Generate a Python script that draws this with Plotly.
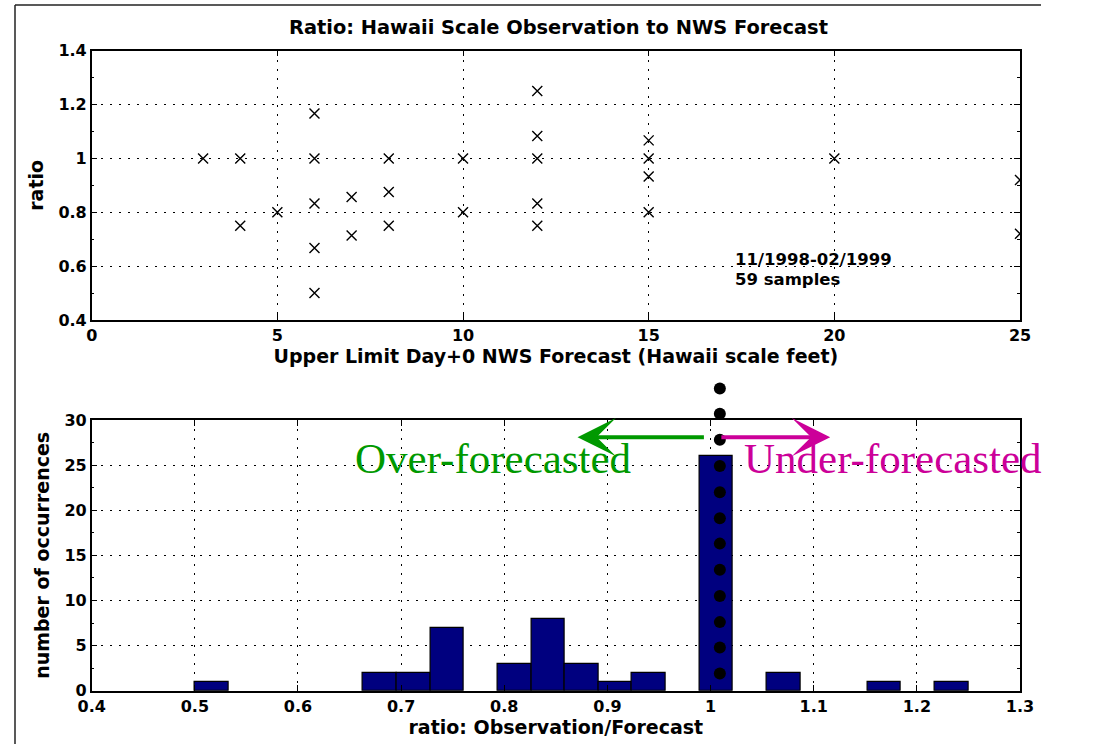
import plotly.graph_objects as go

# ---------------- data ----------------
# top panel: forecast (x) vs ratio (y)
fc_x = [3, 4, 4, 5, 6, 6, 6, 6, 6, 7, 7, 8, 8, 8, 10, 10,
        12, 12, 12, 12, 12, 15, 15, 15, 15, 20, 25, 25]
ratio_y = [1.0, 1.0, 0.75, 0.8, 1.167, 1.0, 0.833, 0.667, 0.5, 0.857, 0.714,
           1.0, 0.875, 0.75, 1.0, 0.8,
           1.25, 1.083, 1.0, 0.833, 0.75, 1.067, 1.0, 0.933, 0.8, 1.0, 0.92, 0.72]

# bottom panel: histogram of ratios (23 bins between 0.5 and 1.25)
bin_centers = [0.5163, 0.6793, 0.7120, 0.7446, 0.8098, 0.8424, 0.8750,
               0.9076, 0.9402, 1.0054, 1.0707, 1.1685, 1.2337]
bin_counts = [1, 2, 2, 7, 3, 8, 3, 1, 2, 26, 2, 1, 1]
bin_width = 0.0326

# column of dots drawn through the ratio = 1 bar
dot_x = [1.009] * 12
dot_y = [33.5, 30.7, 27.8, 24.9, 22.0, 19.1, 16.3, 13.4, 10.5, 7.6, 4.8, 1.9]

top_xticks = [0, 5, 10, 15, 20, 25]
top_yticks = [0.4, 0.6, 0.8, 1.0, 1.2, 1.4]
bot_xticks = [0.4, 0.5, 0.6, 0.7, 0.8, 0.9, 1.0, 1.1, 1.2, 1.3]
bot_yticks = [0, 5, 10, 15, 20, 25, 30]

W, H = 1096, 744
GREEN = "#009900"
MAGENTA = "#cc0099"
NAVY = "#00007f"
SANS = "DejaVu Sans"
SERIF = "Liberation Serif"

# pixel layout of the two panels
LEFT, RIGHT = 91.7, 1020
TOP1, BOT1 = 50.7, 320
TOP2, BOT2 = 420, 690.7
DOT_TOP = 370  # upper end of the invisible overlay used for the dot column


def px_x(p):
    return p / W


def px_y(p):
    return 1 - p / H


y2_range = [0, 30]
y3_range = [0, y2_range[1] * (BOT2 - DOT_TOP) / (BOT2 - TOP2)]

fig = go.Figure()

fig.add_trace(go.Scatter(
    x=fc_x, y=ratio_y, mode="markers", xaxis="x", yaxis="y",
    marker=dict(symbol="x-thin", size=10, line=dict(color="black", width=1.4)),
    showlegend=False))

fig.add_trace(go.Bar(
    x=bin_centers, y=bin_counts, width=bin_width, xaxis="x2", yaxis="y2",
    marker=dict(color=NAVY, line=dict(color="black", width=1.2)),
    showlegend=False))

fig.add_trace(go.Scatter(
    x=dot_x, y=dot_y, mode="markers", xaxis="x3", yaxis="y3",
    marker=dict(symbol="circle", size=12, color="black"),
    showlegend=False, hoverinfo="skip"))

tickfont = dict(family=SANS, size=16, color="black", weight="bold")
titlefont = dict(family=SANS, size=19, color="black", weight="bold")

common = dict(showline=True, linecolor="black", linewidth=1.5, mirror="allticks",
              ticks="inside", ticklen=6, tickcolor="black", tickwidth=1.2,
              showgrid=True, gridcolor="black", gridwidth=1, griddash="2px,7px",
              zeroline=False, tickfont=tickfont, automargin=False)

hidden = dict(visible=False, showgrid=False, zeroline=False, showline=False,
              automargin=False, fixedrange=True)

fig.update_layout(
    width=W, height=H, margin=dict(l=0, r=0, t=0, b=0, autoexpand=False),
    paper_bgcolor="white", plot_bgcolor="rgba(0,0,0,0)", bargap=0,
    xaxis=dict(domain=[px_x(LEFT), px_x(RIGHT)], range=[0, 25], anchor="y",
               tickvals=top_xticks,
               title=dict(text="Upper Limit Day+0 NWS Forecast (Hawaii scale feet)",
                          font=titlefont, standoff=2),
               **common),
    yaxis=dict(domain=[px_y(BOT1), px_y(TOP1)], range=[0.4, 1.4], anchor="x",
               tickvals=top_yticks,
               minor=dict(ticks="inside", ticklen=3, dtick=0.1, tickcolor="black", showgrid=False),
               title=dict(text="ratio", font=titlefont, standoff=10),
               **common),
    xaxis2=dict(domain=[px_x(LEFT), px_x(RIGHT)], range=[0.4, 1.3], anchor="y2",
                tickvals=bot_xticks,
                title=dict(text="ratio: Observation/Forecast", font=titlefont, standoff=2),
                **common),
    yaxis2=dict(domain=[px_y(BOT2), px_y(TOP2)], range=y2_range, anchor="x2",
                tickvals=bot_yticks,
                minor=dict(ticks="inside", ticklen=3, dtick=2.5, tickcolor="black", showgrid=False),
                title=dict(text="number of occurrences", font=titlefont, standoff=10),
                **common),
    xaxis3=dict(domain=[px_x(LEFT), px_x(RIGHT)], range=[0.4, 1.3], anchor="y3", **hidden),
    yaxis3=dict(domain=[px_y(BOT2), px_y(DOT_TOP)], range=y3_range, anchor="x3", **hidden),
)

note_font = dict(family=SANS, size=16.5, color="black", weight="bold")
annotations = [
    dict(text="Ratio: Hawaii Scale Observation to NWS Forecast", xref="paper", yref="paper",
         x=px_x(558), y=px_y(28), xanchor="center", yanchor="middle", showarrow=False,
         font=dict(family=SANS, size=19.4, color="black", weight="bold")),
    dict(text="11/1998-02/1999", xref="x", yref="y", x=17.27, y=0.623,
         xanchor="left", yanchor="middle", showarrow=False, font=note_font),
    dict(text="59 samples", xref="x", yref="y", x=17.27, y=0.549,
         xanchor="left", yanchor="middle", showarrow=False, font=note_font),
    dict(text="Over-forecasted", xref="x2", yref="y2", x=0.6534, y=25.75,
         xanchor="left", yanchor="middle", showarrow=False,
         font=dict(family=SERIF, size=43, color=GREEN)),
    dict(text="Under-forecasted", xref="x2", yref="y2", x=1.0306, y=25.75,
         xanchor="left", yanchor="middle", showarrow=False,
         font=dict(family=SERIF, size=43, color=MAGENTA)),
    # arrows
    dict(text="", xref="x2", yref="y2", axref="x2", ayref="y2",
         x=0.871, y=28.1, ax=0.995, ay=28.1, showarrow=True,
         arrowhead=3, arrowsize=1.6, arrowwidth=4, arrowcolor=GREEN, standoff=0),
    dict(text="", xref="x2", yref="y2", axref="x2", ayref="y2",
         x=1.116, y=28.1, ax=1.009, ay=28.1, showarrow=True,
         arrowhead=3, arrowsize=1.6, arrowwidth=4, arrowcolor=MAGENTA, standoff=0),
]
fig.update_layout(annotations=annotations)

# outer frame lines
fig.add_shape(type="line", xref="paper", yref="paper", layer="above",
              x0=px_x(15), y0=px_y(5), x1=px_x(1041), y1=px_y(5),
              line=dict(color="#222222", width=1.5))
fig.add_shape(type="line", xref="paper", yref="paper", layer="above",
              x0=px_x(15), y0=px_y(5), x1=px_x(15), y1=px_y(744),
              line=dict(color="#222222", width=1.5))

# remove the default page margin so the figure sits at the window's top-left corner
fig.write_html("out.html", config={"displayModeBar": False},
               post_script="document.body.style.margin='0px';")
